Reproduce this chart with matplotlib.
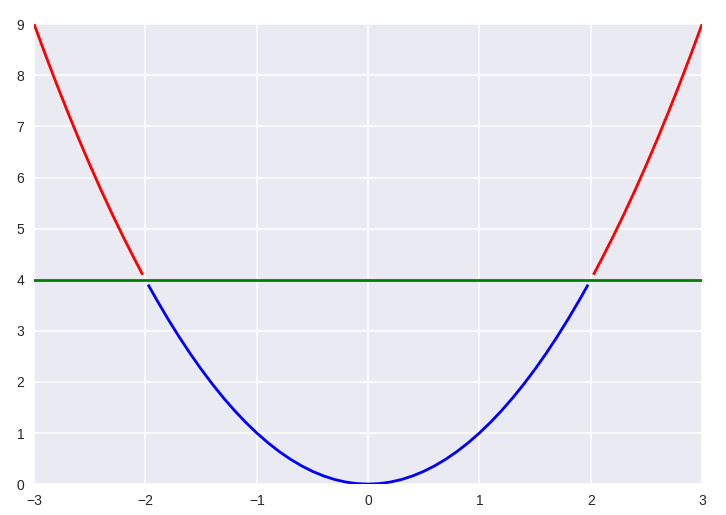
import matplotlib
matplotlib.use("Agg")
import matplotlib.pyplot as plt

# values (y = value of the curve at x)
x_left = [-3.0, -2.9, -2.8, -2.7, -2.6, -2.5, -2.4, -2.3, -2.2, -2.1, -2.03]
y_left = [9.0, 8.41, 7.84, 7.29, 6.76, 6.25, 5.76, 5.29, 4.84, 4.41, 4.12]

x_mid = [-1.97, -1.9, -1.8, -1.7, -1.6, -1.5, -1.4, -1.3, -1.2, -1.1, -1.0,
         -0.9, -0.8, -0.7, -0.6, -0.5, -0.4, -0.3, -0.2, -0.1, 0.0,
         0.1, 0.2, 0.3, 0.4, 0.5, 0.6, 0.7, 0.8, 0.9,
         1.0, 1.1, 1.2, 1.3, 1.4, 1.5, 1.6, 1.7, 1.8, 1.9, 1.97]
y_mid = [3.88, 3.61, 3.24, 2.89, 2.56, 2.25, 1.96, 1.69, 1.44, 1.21, 1.0,
         0.81, 0.64, 0.49, 0.36, 0.25, 0.16, 0.09, 0.04, 0.01, 0.0,
         0.01, 0.04, 0.09, 0.16, 0.25, 0.36, 0.49, 0.64, 0.81,
         1.0, 1.21, 1.44, 1.69, 1.96, 2.25, 2.56, 2.89, 3.24, 3.61, 3.88]

x_right = [2.03, 2.1, 2.2, 2.3, 2.4, 2.5, 2.6, 2.7, 2.8, 2.9, 3.0]
y_right = [4.12, 4.41, 4.84, 5.29, 5.76, 6.25, 6.76, 7.29, 7.84, 8.41, 9.0]

threshold = 4.0

plt.rcParams['font.family'] = ['Liberation Sans', 'DejaVu Sans']

fig = plt.figure(figsize=(7.26, 5.15), dpi=100)
ax = fig.add_axes([0.047, 0.060, 0.920, 0.893])
ax.set_facecolor('#EAEAF2')
for s in ax.spines.values():
    s.set_visible(False)
ax.grid(True, color='white', linewidth=1.1)
ax.set_axisbelow(True)

ax.plot(x_left, y_left, color='r', linewidth=2)
ax.plot(x_mid, y_mid, color='b', linewidth=2)
ax.plot(x_right, y_right, color='r', linewidth=2)
ax.axhline(threshold, color='g', linewidth=2)

ax.set_xlim(-3, 3)
ax.set_ylim(0, 9)
ax.set_xticks(range(-3, 4))
ax.set_yticks(range(0, 10))
ax.tick_params(length=0, labelsize=10, labelcolor='#262626', pad=7)

fig.savefig('out.png', dpi=100)
